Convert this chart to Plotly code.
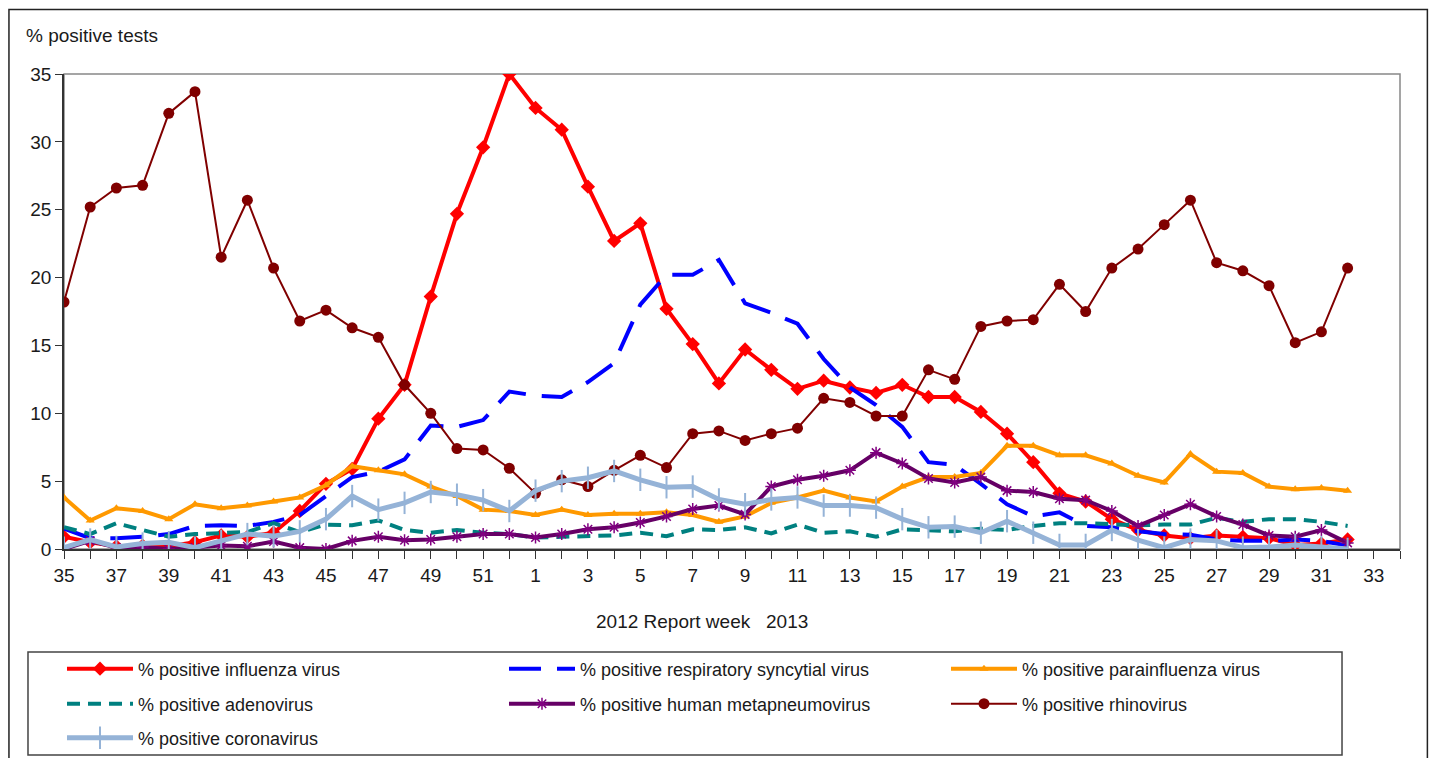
import plotly.graph_objects as go

# report weeks 2012 (35-52) and 2013 (1-32)
weeks = list(range(35, 53)) + list(range(1, 33))
tick_weeks = list(range(35, 53, 2)) + list(range(1, 34, 2))

influenza = [0.9, 0.5, 0.2, 0.25, 0.2, 0.5, 1.0, 0.9, 1.2, 2.8, 4.8, 5.9, 9.6, 12.1, 18.6, 24.7, 29.6, 35.0,
             32.5, 30.9, 26.7, 22.7, 24.0, 17.7, 15.1, 12.2, 14.7, 13.2, 11.8, 12.4, 11.9, 11.5, 12.1, 11.2,
             11.2, 10.1, 8.5, 6.4, 4.1, 3.5, 2.2, 1.4, 1.0, 0.8, 1.0, 0.9, 0.8, 0.3, 0.4, 0.7]
rsv = [1.5, 0.8, 0.8, 0.9, 1.1, 1.7, 1.75, 1.7, 2.0, 2.5, 3.9, 5.3, 5.7, 6.6, 9.1, 9.0, 9.5, 11.6,
       11.3, 11.2, 12.3, 13.7, 18.0, 20.2, 20.2, 21.3, 18.1, 17.4, 16.6, 14.0, 11.9, 10.6, 9.0, 6.4,
       6.2, 4.8, 3.3, 2.4, 2.7, 1.7, 1.6, 1.3, 1.1, 1.05, 0.7, 0.6, 0.6, 0.7, 0.6, 0.25]
parainfluenza = [3.8, 2.1, 3.0, 2.8, 2.2, 3.3, 3.0, 3.2, 3.5, 3.8, 4.7, 6.1, 5.8, 5.5, 4.6, 3.9, 2.9, 2.8,
                 2.5, 2.9, 2.5, 2.6, 2.6, 2.7, 2.5, 2.0, 2.4, 3.4, 3.8, 4.3, 3.8, 3.5, 4.6, 5.3,
                 5.3, 5.6, 7.6, 7.6, 6.9, 6.9, 6.3, 5.4, 4.9, 7.0, 5.7, 5.6, 4.6, 4.4, 4.5, 4.3]
adenovirus = [1.6, 1.1, 1.9, 1.4, 0.9, 1.1, 1.2, 1.25, 1.9, 1.25, 1.8, 1.75, 2.1, 1.4, 1.2, 1.4, 1.2, 1.1,
              0.85, 0.9, 1.0, 1.0, 1.2, 0.95, 1.45, 1.4, 1.6, 1.15, 1.8, 1.2, 1.3, 0.9, 1.45, 1.4,
              1.3, 1.5, 1.4, 1.7, 1.9, 1.9, 1.8, 1.75, 1.8, 1.8, 2.3, 2.0, 2.2, 2.2, 2.0, 1.7]
metapneumo = [0.0, 0.6, 0.1, 0.15, 0.0, 0.1, 0.25, 0.2, 0.55, 0.1, 0.0, 0.6, 0.9, 0.65, 0.7, 0.9, 1.1, 1.1,
              0.85, 1.1, 1.45, 1.6, 1.95, 2.4, 2.95, 3.2, 2.55, 4.6, 5.1, 5.4, 5.8, 7.1, 6.3, 5.2,
              4.9, 5.3, 4.3, 4.2, 3.7, 3.6, 2.8, 1.7, 2.5, 3.3, 2.4, 1.8, 1.0, 0.9, 1.4, 0.45]
rhinovirus = [18.2, 25.2, 26.6, 26.8, 32.1, 33.7, 21.5, 25.7, 20.7, 16.8, 17.6, 16.3, 15.6, 12.1, 10.0, 7.4, 7.3, 5.95,
              4.1, 5.1, 4.6, 5.8, 6.9, 6.0, 8.5, 8.7, 8.0, 8.5, 8.9, 11.1, 10.8, 9.8, 9.8, 13.2,
              12.5, 16.4, 16.8, 16.9, 19.5, 17.5, 20.7, 22.1, 23.9, 25.7, 21.1, 20.5, 19.4, 15.2, 16.0, 20.7]
coronavirus = [0.1, 0.7, 0.15, 0.4, 0.5, 0.1, 0.6, 1.1, 0.95, 1.3, 2.2, 3.9, 2.9, 3.4, 4.2, 4.0, 3.6, 2.8,
               4.3, 5.0, 5.25, 5.75, 5.1, 4.55, 4.6, 3.65, 3.3, 3.65, 3.8, 3.2, 3.2, 3.05, 2.2, 1.6,
               1.65, 1.2, 2.05, 1.2, 0.3, 0.3, 1.4, 0.65, 0.1, 0.7, 0.6, 0.1, 0.15, 0.3, 0.15, 0.0]

x = list(range(len(weeks)))
tickvals = [i * 2 for i in range(len(tick_weeks))]
ticktext = [str(w) for w in tick_weeks]

FONT = "Liberation Sans, Arial, sans-serif"

series = [
    ("% positive influenza virus", influenza, dict(color="#FF0000", width=4), dict(symbol="diamond", size=11, color="#FF0000"), "legend"),
    ("% positive respiratory syncytial virus", rsv, dict(color="#0000FF", width=4, dash="32px,16px"), None, "legend"),
    ("% positive parainfluenza virus", parainfluenza, dict(color="#FF9900", width=4), dict(symbol="triangle-up", size=8, color="#FF9900"), "legend"),
    ("% positive adenovirus", adenovirus, dict(color="#008080", width=4, dash="13px,8px"), None, "legend2"),
    ("% positive human metapneumovirus", metapneumo, dict(color="#660066", width=4),
     dict(symbol="asterisk-open", size=10, color="#800080", line=dict(color="#800080", width=1.5)), "legend2"),
    ("% positive rhinovirus", rhinovirus, dict(color="#800000", width=2), dict(symbol="circle", size=11, color="#800000"), "legend2"),
    ("% positive coronavirus", coronavirus, dict(color="#95B3D7", width=5),
     dict(symbol="line-ns-open", size=16, color="#95B3D7", line=dict(color="#95B3D7", width=2)), "legend3"),
]

fig = go.Figure()
for name, vals, line, marker, leg in series:
    fig.add_trace(go.Scatter(
        x=x, y=vals, name=name,
        mode="lines+markers" if marker else "lines",
        line=line, marker=marker, legend=leg,
    ))

leg_common = dict(
    orientation="h", xanchor="left", yanchor="middle", x=-0.0015,
    entrywidth=361, entrywidthmode="pixels", itemwidth=66,
    font=dict(family=FONT, size=18, color="#1a1a1a"),
    bgcolor="rgba(0,0,0,0)", borderwidth=0, tracegroupgap=0,
)

# the page body adds an 8px offset, so the figure is sized to fit inside the window
fig.update_layout(
    width=1421, height=750,
    margin=dict(l=56, r=29, t=66, b=209, autoexpand=False),
    paper_bgcolor="white", plot_bgcolor="white",
    font=dict(family=FONT, size=19, color="#1a1a1a"),
    showlegend=True,
    legend=dict(leg_common, y=-0.2526),
    legend2=dict(leg_common, y=-0.3263),
    legend3=dict(leg_common, y=-0.3979),
    xaxis=dict(
        range=[0, 51], tickvals=tickvals, ticktext=ticktext,
        ticks="outside", ticklen=8, tickcolor="#333", tickwidth=1.2,
        minor=dict(dtick=1, tick0=0, ticks="outside", ticklen=8, tickcolor="#333", tickwidth=1.2),
        showline=True, linecolor="#333", linewidth=1.5,
        showgrid=False, zeroline=False, tickfont=dict(size=19),
    ),
    yaxis=dict(
        range=[0, 35], dtick=5, ticks="outside", ticklen=7, tickcolor="#333", tickwidth=1.2,
        showline=True, linecolor="#333", linewidth=1.5,
        showgrid=False, zeroline=False, tickfont=dict(size=19),
    ),
    shapes=[
        # outer chart border
        dict(type="rect", xref="paper", yref="paper", x0=-0.0412, x1=1.0205, y0=-0.48, y1=1.1358,
             line=dict(color="#222", width=1.5), layer="below"),
        # plot area frame
        dict(type="rect", xref="paper", yref="paper", x0=0, x1=1, y0=0, y1=1,
             line=dict(color="#888", width=1.5), layer="below"),
        # legend box
        dict(type="rect", xref="paper", yref="paper", x0=-0.02695, x1=0.9566, y0=-0.4337, y1=-0.2168,
             line=dict(color="#444", width=1.5), layer="below"),
    ],
    annotations=[
        dict(text="% positive tests", xref="paper", yref="paper", x=-0.0299, y=1.082,
             xanchor="left", yanchor="middle", showarrow=False, font=dict(size=19)),
        dict(text="2012 Report week\u00a0\u00a0\u00a02013", xref="paper", yref="paper", x=0.4775, y=-0.1516,
             xanchor="center", yanchor="middle", showarrow=False, font=dict(size=19)),
    ],
)

fig.write_html("out.html")
